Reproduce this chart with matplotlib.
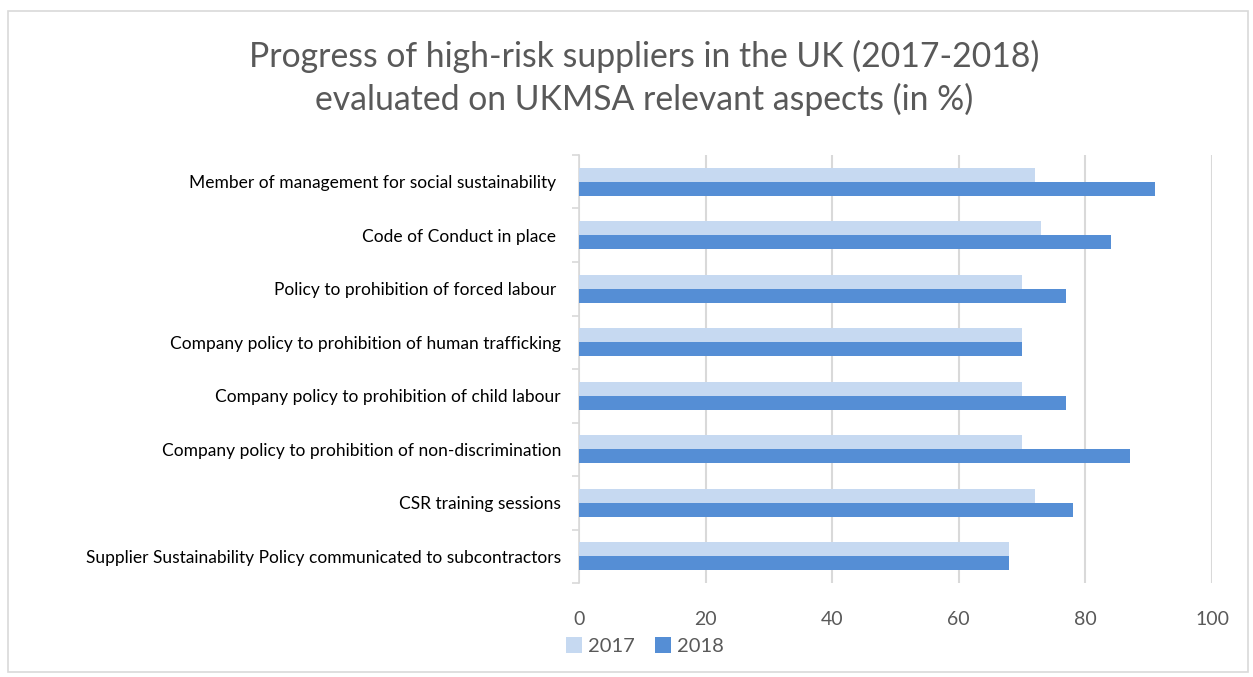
import matplotlib.pyplot as plt
import numpy as np
from matplotlib.patches import Rectangle

plt.rcParams["font.family"] = ["Lato", "DejaVu Sans"]

# data
categories = [
    "Member of management for social sustainability ",
    "Code of Conduct in place ",
    "Policy to prohibition of forced labour ",
    "Company policy to prohibition of human trafficking",
    "Company policy to prohibition of child labour",
    "Company policy to prohibition of non-discrimination",
    "CSR training sessions",
    "Supplier Sustainability Policy communicated to subcontractors",
]
values_2017 = [72, 73, 70, 70, 70, 70, 72, 68]
values_2018 = [91, 84, 77, 70, 77, 87, 78, 68]
series_labels = ["2017", "2018"]
x_ticks = [0, 20, 40, 60, 80, 100]

C17 = "#C6D9F1"
C18 = "#558ED5"
TXT = "#595959"
GRID = "#D9D9D9"

fig = plt.figure(figsize=(12.53, 6.77), dpi=100)
fig.patches.append(Rectangle((8 / 1253, 1 - 672 / 677), 1240 / 1253, 661 / 677,
                             transform=fig.transFigure, fill=False,
                             edgecolor="#D9D9D9", linewidth=1.2))

W, H = 1253, 677
ax = fig.add_axes([579 / W, 1 - 583 / H, (1212 - 579) / W, (583 - 155) / H])

n = len(categories)
y = np.arange(n)[::-1].astype(float)
bh = 0.26
ax.barh(y + bh / 2, values_2017, height=bh, color=C17, label=series_labels[0], zorder=3)
ax.barh(y - bh / 2, values_2018, height=bh, color=C18, label=series_labels[1], zorder=3)

ax.set_xlim(0, 100)
ax.set_ylim(-0.5, n - 0.5)
ax.set_xticks(x_ticks)
ax.xaxis.grid(True, color=GRID, linewidth=1.5, zorder=0)
ax.tick_params(axis="x", length=0, labelsize=14, labelcolor=TXT, pad=20)

ax.set_yticks(y)
ax.set_yticklabels(categories, fontsize=12.5, color="black")
ax.set_yticks(np.arange(n + 1) - 0.5, minor=True)
ax.tick_params(axis="y", which="major", length=0, pad=13)
ax.tick_params(axis="y", which="minor", length=5, color=GRID, width=1.2)

for s in ["top", "right", "bottom"]:
    ax.spines[s].set_visible(False)
ax.spines["left"].set_color(GRID)
ax.spines["left"].set_linewidth(1.2)

fig.text(644 / W, 1 - 78 / H,
         "Progress of high-risk suppliers in the UK (2017-2018)\nevaluated on UKMSA relevant aspects (in %)",
         ha="center", va="center", fontsize=24.3, color=TXT, linespacing=1.35)

fig.legend(loc="center left", bbox_to_anchor=(548 / W, 1 - 646 / H), ncol=2,
           frameon=False, fontsize=14.5, labelcolor=TXT, handlelength=0.8,
           handleheight=0.8, handletextpad=0.3, columnspacing=1.0)

fig.savefig("out.png", dpi=100)
